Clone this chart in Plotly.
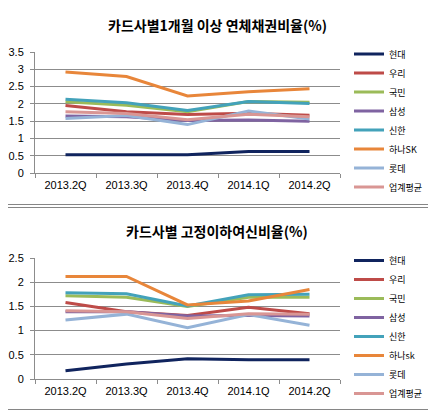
import plotly.graph_objects as go

quarters = ["2013.2Q", "2013.3Q", "2013.4Q", "2014.1Q", "2014.2Q"]
companies = ["현대", "우리", "국민", "삼성", "신한", "하나SK", "롯데", "업계평균"]
companies_bottom = ["현대", "우리", "국민", "삼성", "신한", "하나sk", "롯데", "업계평균"]
colors = ["#10245E", "#BE4B48", "#9BBB59", "#7F63A1", "#43A2BA", "#E8863A", "#95B3D7", "#D99694"]

# 1개월 이상 연체채권비율(%)
overdue = {
    "현대":     [0.53, 0.53, 0.53, 0.62, 0.62],
    "우리":     [1.95, 1.77, 1.69, 1.73, 1.67],
    "국민":     [2.06, 1.96, 1.77, 2.07, 2.05],
    "삼성":     [1.65, 1.63, 1.52, 1.53, 1.50],
    "신한":     [2.13, 2.03, 1.81, 2.07, 2.01],
    "하나SK":   [2.92, 2.79, 2.23, 2.35, 2.44],
    "롯데":     [1.58, 1.66, 1.40, 1.79, 1.56],
    "업계평균": [1.77, 1.72, 1.54, 1.70, 1.63],
}

# 고정이하여신비율(%)
npl = {
    "현대":     [0.17, 0.31, 0.42, 0.40, 0.40],
    "우리":     [1.58, 1.39, 1.31, 1.48, 1.35],
    "국민":     [1.72, 1.69, 1.50, 1.69, 1.69],
    "삼성":     [1.39, 1.39, 1.30, 1.31, 1.30],
    "신한":     [1.78, 1.76, 1.51, 1.74, 1.75],
    "하나SK":   [2.12, 2.12, 1.53, 1.61, 1.85],
    "롯데":     [1.22, 1.34, 1.06, 1.33, 1.11],
    "업계평균": [1.41, 1.39, 1.25, 1.35, 1.34],
}

title_top = "카드사별1개월 이상 연체채권비율(%)"
title_bottom = "카드사별 고정이하여신비율(%)"

# page body has a default 8px margin; lay the figure out in window pixels
OFF = 8
W, H = 436 - OFF, 412 - OFF

def fx(x):
    return (x - OFF) / W

def fy(y):
    return 1 - (y - OFF) / H

fig = go.Figure()

for i, name in enumerate(companies):
    fig.add_trace(go.Scatter(
        x=quarters, y=overdue[name], name=name, mode="lines",
        line=dict(color=colors[i], width=3), xaxis="x", yaxis="y",
        legend="legend", hoverinfo="skip"))
for i, name in enumerate(companies):
    fig.add_trace(go.Scatter(
        x=quarters, y=npl[name], name=companies_bottom[i], mode="lines",
        line=dict(color=colors[i], width=3), xaxis="x2", yaxis="y2",
        legend="legend2", hoverinfo="skip"))

grid = "#8C8C8C"
tickfont = dict(family="Liberation Sans", size=11, color="#000000")

def xax(anchor):
    return dict(domain=[fx(35), fx(340)], anchor=anchor, type="category",
                range=[-0.5, 4.5], showgrid=False, showline=True, linecolor=grid,
                linewidth=1, ticks="outside", tickson="boundaries", ticklen=4,
                tickcolor=grid, tickfont=tickfont, ticklabelstandoff=2, fixedrange=True,
                automargin=False)

def yax(anchor, top, bottom, rmax):
    return dict(domain=[fy(bottom), fy(top)], anchor=anchor, range=[0, rmax],
                dtick=0.5, tick0=0, showgrid=True, gridcolor=grid, gridwidth=1,
                showline=True, linecolor=grid, linewidth=1, ticks="outside",
                ticklen=4, tickcolor=grid, tickfont=tickfont, zeroline=False,
                ticklabelstandoff=4, fixedrange=True, automargin=False)

legfont = dict(family="Noto Sans CJK KR", size=9, color="#000000")

fig.update_layout(
    width=W, height=H, margin=dict(l=0, r=0, t=0, b=0, pad=0, autoexpand=False),
    paper_bgcolor="#FFFFFF", plot_bgcolor="#FFFFFF",
    showlegend=True,
    xaxis=xax("y"),
    yaxis=yax("x", 52, 173, 3.5),
    xaxis2=xax("y2"),
    yaxis2=yax("x2", 258, 379, 2.5),
    legend=dict(x=fx(349), xanchor="left", y=fy(120.5), yanchor="middle",
                font=legfont, bgcolor="rgba(0,0,0,0)", itemwidth=30,
                tracegroupgap=0),
    legend2=dict(x=fx(349), xanchor="left", y=fy(327), yanchor="middle",
                 font=legfont, bgcolor="rgba(0,0,0,0)", itemwidth=30,
                 tracegroupgap=0),
    annotations=[
        dict(text="<b>" + title_top + "</b>", x=fx(217), y=fy(25), xref="paper",
             yref="paper", showarrow=False, xanchor="center", yanchor="middle",
             font=dict(family="Noto Sans CJK KR", size=14, color="#000000")),
        dict(text="<b>" + title_bottom + "</b>", x=fx(217), y=fy(231), xref="paper",
             yref="paper", showarrow=False, xanchor="center", yanchor="middle",
             font=dict(family="Noto Sans CJK KR", size=14, color="#000000")),
    ],
    shapes=[
        dict(type="rect", xref="paper", yref="paper", x0=fx(1.5), x1=fx(433.5),
             y0=fy(204.5), y1=fy(1.5), line=dict(color="#868686", width=1)),
        dict(type="rect", xref="paper", yref="paper", x0=fx(1.5), x1=fx(433.5),
             y0=fy(409.5), y1=fy(207.5), line=dict(color="#868686", width=1)),
    ],
)

fig.write_html("out.html")
